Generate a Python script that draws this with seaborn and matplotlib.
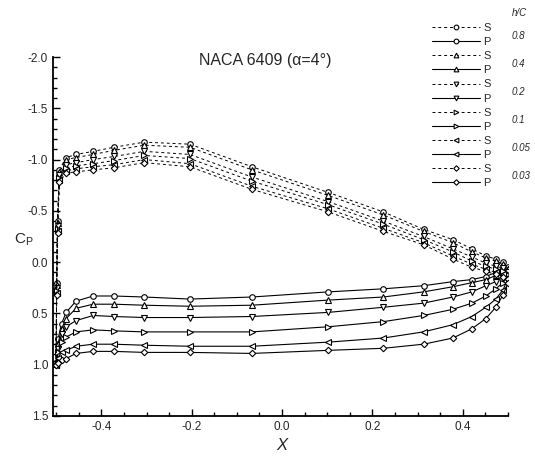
import matplotlib
matplotlib.use("Agg")
import matplotlib.pyplot as plt
import seaborn as sns
import numpy as np
import pandas as pd
from matplotlib.ticker import MultipleLocator, FixedLocator

sns.set_style("ticks")
plt.rcParams['font.family'] = ['Liberation Sans', 'DejaVu Sans']
plt.rcParams['axes.unicode_minus'] = False

hc_labels = ["0.8", "0.4", "0.2", "0.1", "0.05", "0.03"]
markers = ["o", "^", "v", ">", "<", "D"]

# suction side (S) x positions
x_s = [-0.5, -0.499, -0.497, -0.493, -0.478, -0.456, -0.418, -0.372, -0.305, -0.204,
       -0.067, 0.102, 0.224, 0.313, 0.378, 0.42, 0.451, 0.473, 0.489, 0.5]
cp_s_08 = [0.98, 0.20, -0.40, -0.90, -1.02, -1.05, -1.08, -1.12, -1.17, -1.15,
           -0.93, -0.68, -0.49, -0.32, -0.22, -0.13, -0.06, -0.03, 0.00, 0.06]
cp_s_04 = [0.98, 0.22, -0.38, -0.88, -1.00, -1.02, -1.05, -1.09, -1.14, -1.12,
           -0.90, -0.65, -0.46, -0.30, -0.19, -0.10, -0.04, -0.01, 0.02, 0.07]
cp_s_02 = [0.99, 0.25, -0.35, -0.85, -0.95, -0.97, -1.00, -1.03, -1.08, -1.05,
           -0.83, -0.59, -0.40, -0.25, -0.13, -0.05, 0.01, 0.04, 0.06, 0.10]
cp_s_01 = [0.99, 0.28, -0.32, -0.82, -0.92, -0.94, -0.96, -0.99, -1.04, -1.01,
           -0.79, -0.56, -0.37, -0.22, -0.10, -0.01, 0.04, 0.07, 0.09, 0.12]
cp_s_005 = [1.00, 0.30, -0.30, -0.80, -0.89, -0.91, -0.93, -0.95, -1.00, -0.96,
            -0.74, -0.52, -0.33, -0.19, -0.06, 0.02, 0.07, 0.10, 0.12, 0.14]
cp_s_003 = [1.00, 0.32, -0.28, -0.78, -0.87, -0.88, -0.90, -0.92, -0.97, -0.93,
            -0.71, -0.49, -0.30, -0.17, -0.03, 0.05, 0.09, 0.12, 0.14, 0.16]

# pressure side (P) x positions
x_p = [-0.5, -0.496, -0.488, -0.478, -0.456, -0.418, -0.372, -0.305, -0.204, -0.067,
       0.102, 0.224, 0.313, 0.378, 0.42, 0.451, 0.473, 0.489, 0.5]
cp_p_08 = [0.98, 0.75, 0.60, 0.49, 0.38, 0.33, 0.33, 0.34, 0.36, 0.34,
           0.29, 0.26, 0.23, 0.19, 0.17, 0.14, 0.10, 0.07, 0.05]
cp_p_04 = [0.98, 0.80, 0.65, 0.55, 0.45, 0.41, 0.41, 0.42, 0.43, 0.42,
           0.37, 0.34, 0.29, 0.24, 0.20, 0.17, 0.13, 0.10, 0.07]
cp_p_02 = [0.99, 0.85, 0.70, 0.63, 0.57, 0.52, 0.53, 0.54, 0.54, 0.53,
           0.49, 0.44, 0.40, 0.34, 0.29, 0.23, 0.19, 0.15, 0.10]
cp_p_01 = [0.99, 0.88, 0.78, 0.73, 0.68, 0.66, 0.67, 0.68, 0.68, 0.68,
           0.63, 0.58, 0.52, 0.46, 0.40, 0.33, 0.26, 0.20, 0.13]
cp_p_005 = [1.00, 0.93, 0.88, 0.86, 0.82, 0.80, 0.80, 0.81, 0.82, 0.82,
            0.78, 0.74, 0.68, 0.61, 0.53, 0.44, 0.36, 0.27, 0.16]
cp_p_003 = [1.00, 0.98, 0.95, 0.94, 0.89, 0.87, 0.87, 0.88, 0.88, 0.89,
            0.86, 0.84, 0.80, 0.74, 0.65, 0.55, 0.44, 0.32, 0.20]

suction = [cp_s_08, cp_s_04, cp_s_02, cp_s_01, cp_s_005, cp_s_003]
pressure = [cp_p_08, cp_p_04, cp_p_02, cp_p_01, cp_p_005, cp_p_003]

W, H = 535, 458
fig = plt.figure(figsize=(W / 100, H / 100), dpi=100)
ax = fig.add_axes([53 / W, 1 - 416 / H, (508 - 53) / W, (416 - 57) / H])

handles = []
labels = []
for i in range(6):
    ms = 3.3 if markers[i] == "D" else 4.0
    sns.lineplot(x=x_s, y=suction[i], ax=ax, color="black", linestyle=(0, (3, 3)),
                 linewidth=0.7, marker=markers[i], markersize=ms,
                 markerfacecolor="white", markeredgecolor="black", markeredgewidth=0.8,
                 sort=False, estimator=None, legend=False)
    handles.append(ax.lines[-1])
    labels.append("S")
    sns.lineplot(x=x_p, y=pressure[i], ax=ax, color="black", linestyle="-",
                 linewidth=0.8, marker=markers[i], markersize=ms,
                 markerfacecolor="white", markeredgecolor="black", markeredgewidth=0.8,
                 sort=False, estimator=None, legend=False)
    handles.append(ax.lines[-1])
    labels.append("P")

ax.set_xlim(-0.507, 0.5)
ax.set_ylim(1.5, -2.0)
ax.xaxis.set_major_locator(FixedLocator([-0.4, -0.2, 0.0, 0.2, 0.4]))
ax.xaxis.set_minor_locator(MultipleLocator(0.05))
ax.yaxis.set_major_locator(MultipleLocator(0.5))
ax.yaxis.set_minor_locator(MultipleLocator(0.1))
ax.set_xticklabels(["-0.4", "-0.2", "0.0", "0.2", "0.4"])
ax.tick_params(which="both", direction="in", labelsize=8.5, width=1.0, color="black")
ax.tick_params(which="major", length=5)
ax.tick_params(which="minor", length=3)
for s in ["top", "right"]:
    ax.spines[s].set_visible(False)
for s in ["left", "bottom"]:
    ax.spines[s].set_linewidth(1.3)
    ax.spines[s].set_color("black")
ax.set_xlabel("")
ax.set_ylabel("")

fig.text(265 / W, 1 - 61 / H, "NACA 6409 (\u03b1=4\u00b0)",
         ha="center", va="center", fontsize=11.5)

fig.text(14 / W, 1 - 240 / H, "C$_\\mathregular{P}$", fontsize=11, ha="left", va="center")
fig.text(282 / W, 1 - 446 / H, "X", fontsize=12, style="italic", ha="center", va="center")

leg = ax.legend(handles, labels, loc="upper left",
                bbox_to_anchor=(432 / W, 1 - 23 / H), bbox_transform=fig.transFigure,
                frameon=False, fontsize=8, handlelength=4.3, handletextpad=0.3,
                labelspacing=0.37, borderpad=0, borderaxespad=0, markerscale=0.85)

fig.text(512 / W, 1 - 13 / H, "h/C", fontsize=7, style="italic", ha="left", va="center")
hc_y = [36, 64, 92, 120, 148, 176]
for lab, yy in zip(hc_labels, hc_y):
    fig.text(512 / W, 1 - yy / H, lab, fontsize=7, style="italic", ha="left", va="center")

fig.savefig("out.png", dpi=100)
